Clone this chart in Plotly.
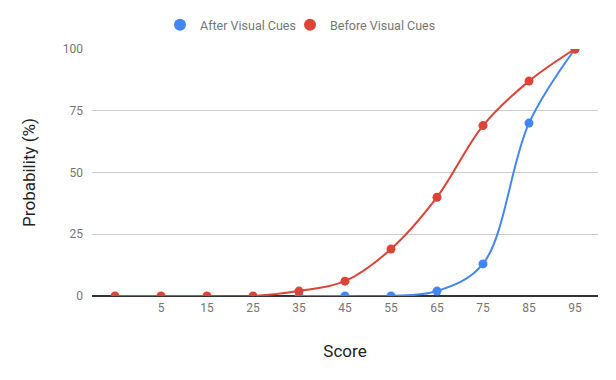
import plotly.graph_objects as go

scores_before = [-5, 5, 15, 25, 35, 45, 55, 65, 75, 85, 95]
before = [0, 0, 0, 0, 2, 6, 19, 40, 69, 87, 100]
scores_after = [35, 45, 55, 65, 75, 85, 95]
after = [0, 0, 0, 2, 13, 70, 100]
xtick_vals = [5, 15, 25, 35, 45, 55, 65, 75, 85, 95]
ytick_vals = [0, 25, 50, 75, 100]

BLUE = "#4285F4"
RED = "#DB4437"

fig = go.Figure()
fig.add_trace(go.Scatter(
    x=scores_after, y=after, name="After Visual Cues", mode="lines+markers",
    line=dict(color=BLUE, width=2, shape="spline", smoothing=1),
    marker=dict(color=BLUE, size=9), showlegend=False,
))
fig.add_trace(go.Scatter(
    x=scores_before, y=before, name="Before Visual Cues", mode="lines+markers",
    line=dict(color=RED, width=2, shape="spline", smoothing=1),
    marker=dict(color=RED, size=9), showlegend=False,
))
# legend entries (circle symbols only), one legend each for exact placement
for name, col, lg in [("After Visual Cues", BLUE, "legend"), ("Before Visual Cues", RED, "legend2")]:
    fig.add_trace(go.Scatter(
        x=[None], y=[None], name=name, mode="markers",
        marker=dict(color=col, size=13), showlegend=True, legend=lg,
    ))

legend_common = dict(orientation="h", xref="container", xanchor="left",
                     y=0.955, yanchor="middle", yref="container",
                     font=dict(size=12.5, color="#757575"),
                     itemsizing="constant", itemwidth=30, bgcolor="rgba(0,0,0,0)")

fig.update_layout(
    width=616, height=380,
    margin=dict(l=84, r=26, t=41, b=92),
    paper_bgcolor="white", plot_bgcolor="white",
    font=dict(family="Roboto, Arial, sans-serif", color="#757575", size=12),
    legend=dict(legend_common, x=152 / 616),
    legend2=dict(legend_common, x=282 / 616),
    showlegend=True,
    xaxis=dict(
        range=[-10, 100], tickmode="array", tickvals=xtick_vals,
        ticktext=[str(v) for v in xtick_vals], showgrid=False, zeroline=False,
        showline=False, ticks="", ticklabelstandoff=3,
        title=dict(text="Score", font=dict(size=17, color="#222222"), standoff=31),
        automargin=False,
    ),
    yaxis=dict(
        range=[0, 100], tickmode="array", tickvals=ytick_vals,
        showgrid=True, gridcolor="#cccccc", gridwidth=1,
        zeroline=True, zerolinecolor="#333333", zerolinewidth=1.5,
        showline=False, ticks="", ticklabelstandoff=8,
        title=dict(text="Probability (%)", font=dict(size=17, color="#222222"), standoff=22),
        automargin=False,
    ),
)
fig.write_html("out.html")
